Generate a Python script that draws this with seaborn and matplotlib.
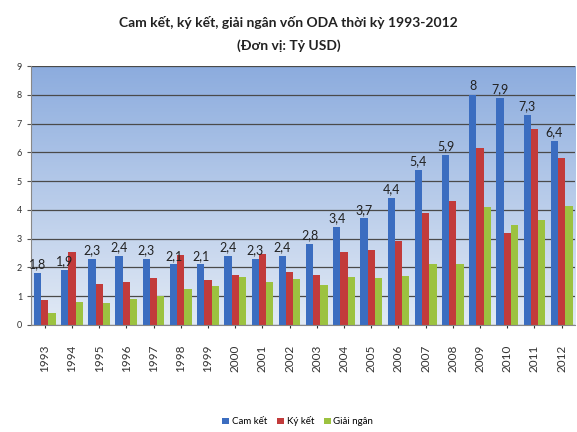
import seaborn as sns
import numpy as np
import pandas as pd
import matplotlib.pyplot as plt

# ODA data 1993-2012 (billion USD)
years = [str(y) for y in range(1993, 2013)]
cam_ket = [1.8, 1.9, 2.3, 2.4, 2.3, 2.1, 2.1, 2.4, 2.3, 2.4,
           2.8, 3.4, 3.7, 4.4, 5.4, 5.9, 8.0, 7.9, 7.3, 6.4]
ky_ket = [0.85, 2.55, 1.42, 1.5, 1.62, 2.44, 1.55, 1.74, 2.46, 1.84,
          1.74, 2.55, 2.62, 2.9, 3.9, 4.32, 6.15, 3.2, 6.82, 5.8]
giai_ngan = [0.43, 0.78, 0.76, 0.9, 1.0, 1.24, 1.34, 1.67, 1.5, 1.59,
             1.4, 1.67, 1.64, 1.7, 2.1, 2.13, 4.1, 3.47, 3.66, 4.13]
series_names = ['Cam kết', 'Ký kết', 'Giải ngân']
colors = ['#3B6DC0', '#C23B3B', '#9CC240']

df = pd.DataFrame({'Năm': years, 'Cam kết': cam_ket,
                   'Ký kết': ky_ket, 'Giải ngân': giai_ngan})
df_long = df.melt(id_vars='Năm', var_name='Loại', value_name='Giá trị')

plt.rcParams['font.family'] = ['Lato', 'DejaVu Sans']

fig = plt.figure(figsize=(5.77, 4.32), dpi=100)
ax = fig.add_axes([0.054, 0.248, 0.943, 0.599])

# gradient background of plot area
grad = np.linspace(0, 1, 256).reshape(-1, 1)
top = np.array([0x8C, 0xAC, 0xDE]) / 255
bot = np.array([0xE2, 0xEA, 0xF5]) / 255
img = top * (1 - grad)[..., None] + bot * grad[..., None]
ax.imshow(img, extent=[0, 1, 0, 1], transform=ax.transAxes,
          aspect='auto', zorder=0)

sns.barplot(data=df_long, x='Năm', y='Giá trị', hue='Loại',
            hue_order=series_names, palette=colors, width=0.8,
            saturation=1, ax=ax, zorder=2)

ax.set_ylim(0, 9)
ax.set_yticks(range(0, 10))
ax.yaxis.grid(True, color='#4A4A4A', linewidth=0.9, zorder=1)
ax.set_axisbelow(True)
ax.set_xlabel('')
ax.set_ylabel('')
ax.tick_params(axis='y', labelsize=6.5, length=3, colors='#555555')
ax.tick_params(axis='x', labelsize=8.5, rotation=90, length=2, pad=12,
               colors='#333333')
for lbl in ax.get_yticklabels():
    lbl.set_color('#333333')
for s in ['top', 'right']:
    ax.spines[s].set_visible(False)
ax.spines['left'].set_color('#888888')
ax.spines['bottom'].set_color('#888888')

labels = [f'{v:.1f}'.replace('.', ',') if v != 8 else '8' for v in cam_ket]
ax.bar_label(ax.containers[0], labels=labels, fontsize=9,
             color='#222222', padding=2)

ax.legend(loc='upper center', bbox_to_anchor=(0.49, -0.32), ncol=3,
          frameon=False, fontsize=7, handlelength=0.7, handleheight=0.7,
          handletextpad=0.3, columnspacing=1.0)

fig.text(0.5, 0.948, 'Cam kết, ký kết, giải ngân vốn ODA thời kỳ 1993-2012',
         ha='center', va='center', fontsize=10, fontweight='bold',
         color='#222222')
fig.text(0.5, 0.895, '(Đơn vị: Tỷ USD)', ha='center', va='center',
         fontsize=10, fontweight='bold', color='#222222')

fig.savefig('out.png', dpi=100)
